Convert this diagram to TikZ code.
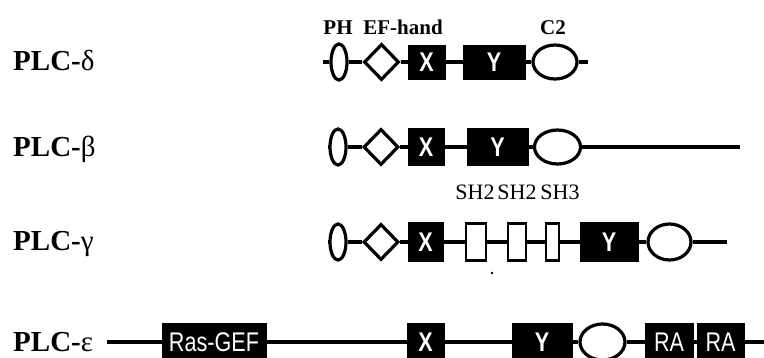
\documentclass[tikz,border=0pt]{standalone}
\usepackage{fontspec}
\usepackage{graphicx}
\setmainfont{Liberation Serif}
\newfontfamily\boxfont{Liberation Sans}
\usetikzlibrary{shapes.geometric}
% condensed white lettering inside the catalytic boxes
\newcommand\bxt[1]{\scalebox{0.8}[1]{#1}}
% isoform name: bold "PLC-" followed by a plain Greek letter
\newcommand\isoform[1]{PLC-{\mdseries #1}}
\begin{document}
\begin{tikzpicture}[x=1pt,y=-1pt,
  backbone/.style={line width=3.6pt},
  rowlabel/.style={anchor=base west, inner sep=0, font=\fontsize{29}{32}\selectfont\bfseries},
  toplabel/.style={anchor=base, inner sep=0, font=\fontsize{21}{24}\selectfont\bfseries},
  shlabel/.style={anchor=base, inner sep=0, font=\fontsize{22}{24}\selectfont},
  catbox/.style={rectangle, fill=black, draw=black, line width=0.5pt, text=white,
    inner sep=0, minimum height=37pt, font=\fontsize{27}{30}\selectfont\boxfont\bfseries},
  phdom/.style={ellipse, draw, line width=3.2pt, fill=white, inner sep=0,
    minimum width=16pt, minimum height=36pt},
  efdom/.style={diamond, draw, line width=3.2pt, fill=white, inner sep=0,
    minimum width=35pt, minimum height=36pt},
  c2dom/.style={ellipse, draw, line width=3.2pt, fill=white, inner sep=0,
    minimum width=44pt, minimum height=34pt},
  shdom/.style={rectangle, draw, line width=2.6pt, fill=white, inner sep=0,
    minimum height=37pt},
]
\useasboundingbox (0,0) rectangle (764,358);

% ---------- PLC-delta ----------
\node[rowlabel] (ldelta) at (13,71) {\isoform{δ}};
\coordinate (d0) at (323,62);
\node[phdom] (dph) at (339,62) {};
\node[efdom] (def) at (381.5,62) {};
\node[catbox, minimum width=37pt, minimum height=34pt] (dx) at (426.5,62) {\bxt{X}};
\node[catbox, minimum width=62pt, minimum height=34pt] (dy) at (494,62) {\bxt{Y}};
\node[c2dom] (dc2) at (555,62) {};
\coordinate (d1) at (588,62);
\draw[backbone] (d0) -- (dph) -- (def) -- (dx) -- (dy) -- (dc2) -- (d1);
\node[toplabel] (tph) at (338,35) {PH};
\node[toplabel] (tef) at (403,35) {EF-hand};
\node[toplabel] (tc2) at (553,35) {C2};

% ---------- PLC-beta ----------
\node[rowlabel] (lbeta) at (13,157) {\isoform{β}};
\coordinate (b0) at (328,147);
\node[phdom] (bph) at (338,147) {};
\node[efdom] (bef) at (381,147) {};
\node[catbox, minimum width=36pt] (bx) at (426,147) {\bxt{X}};
\node[catbox, minimum width=61pt] (by) at (497.5,147) {\bxt{Y}};
\node[c2dom, minimum width=46pt] (bc2) at (557.5,147) {};
\coordinate (b1) at (740,147);
\draw[backbone] (b0) -- (bph) -- (bef) -- (bx) -- (by) -- (bc2) -- (b1);

% ---------- PLC-gamma ----------
\node[rowlabel] (lgamma) at (13,251) {\isoform{γ}};
\coordinate (g0) at (328,242);
\node[phdom] (gph) at (338,242) {};
\node[efdom] (gef) at (381,242) {};
\node[catbox, minimum width=35pt, minimum height=39pt] (gx) at (425.5,242) {\bxt{X}};
\node[shdom, minimum width=20pt] (gsha) at (476,242) {};
\node[shdom, minimum width=18pt] (gshb) at (517,242) {};
\node[shdom, minimum width=13pt] (gshc) at (552.5,242) {};
\node[catbox, minimum width=58pt, minimum height=39pt] (gy) at (609,242) {\bxt{Y}};
\node[c2dom, minimum width=43pt, minimum height=36pt] (gc2) at (669.5,242) {};
\coordinate (g1) at (727,242);
\draw[backbone] (g0) -- (gph) -- (gef) -- (gx) -- (gsha) -- (gshb) -- (gshc) -- (gy) -- (gc2) -- (g1);
\node[shlabel] (tsha) at (475,200) {SH2};
\node[shlabel] (tshb) at (517,200) {SH2};
\node[shlabel] (tshc) at (560,200) {SH3};
\fill (492,273) circle (1.3pt);

% ---------- PLC-epsilon ----------
\node[rowlabel] (lepsilon) at (13,352) {\isoform{ε}};
\coordinate (e0) at (107,342);
\node[catbox, minimum width=104pt, minimum height=38pt, font=\fontsize{27}{30}\selectfont\boxfont] (egef) at (214,342) {\bxt{Ras-GEF}};
\node[catbox, minimum width=37pt, minimum height=38pt] (ex) at (425.5,342) {\bxt{X}};
\node[catbox, minimum width=60pt, minimum height=38pt] (ey) at (542,342) {\bxt{Y}};
\node[c2dom, minimum width=45pt, minimum height=36pt] (ec2) at (602.5,342) {};
\node[catbox, minimum width=48pt, minimum height=38pt, font=\fontsize{27}{30}\selectfont\boxfont] (era) at (669,342) {\bxt{RA}};
\node[catbox, minimum width=47pt, minimum height=38pt, font=\fontsize{27}{30}\selectfont\boxfont] (erb) at (720.5,342) {\bxt{RA}};
\coordinate (e1) at (766,342);
\draw[backbone] (e0) -- (egef) -- (ex) -- (ey) -- (ec2) -- (era) -- (erb) -- (e1);
\end{tikzpicture}
\end{document}
